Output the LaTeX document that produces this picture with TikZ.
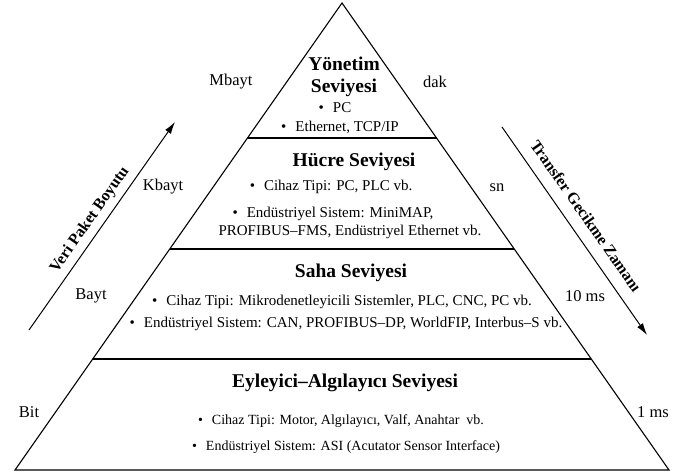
\documentclass[tikz,border=0pt]{standalone}
\usepackage{fontspec}
\setmainfont{Liberation Serif}
\usetikzlibrary{calc,arrows.meta}
\newcommand{\itm}{\textbullet\hspace{9pt}}
\begin{document}
\begin{tikzpicture}[x=1pt,y=-1pt,
  edge/.style={line width=1.1pt, line join=miter},
  divider/.style={line width=1.8pt},
  axis/.style={line width=1pt, -{Latex[length=12pt,width=7pt]}},
  title/.style={font=\fontsize{19.5}{22}\selectfont\bfseries, inner sep=0pt, align=center},
  body/.style={font=\fontsize{15}{17}\selectfont, inner sep=0pt},
  smallbody/.style={font=\fontsize{14}{16}\selectfont, inner sep=0pt},
  side/.style={font=\fontsize{16.5}{19}\selectfont, inner sep=0pt},
  axislabel/.style={font=\fontsize{16}{19}\selectfont\bfseries, inner sep=0pt}]
\useasboundingbox (0,0) rectangle (677,474);

% pyramid outline
\coordinate (apex) at (342,3);
\coordinate (bl) at (15,470);
\coordinate (br) at (669,470);
\draw[edge] (bl) -- (apex) -- (br) -- cycle;

% level dividers
\coordinate (l1) at ($(apex)!0.289!(bl)$);
\coordinate (r1) at ($(apex)!0.289!(br)$);
\coordinate (l2) at ($(apex)!0.527!(bl)$);
\coordinate (r2) at ($(apex)!0.527!(br)$);
\coordinate (l3) at ($(apex)!0.762!(bl)$);
\coordinate (r3) at ($(apex)!0.762!(br)$);
\draw[divider] (l1) -- (r1);
\draw[divider] (l2) -- (r2);
\draw[divider] (l3) -- (r3);

% management level
\node[title] (t1) at (344,77) {Yönetim\\Seviyesi};
\node[body] (t1a) at (335,108) {\itm PC};
\node[body] (t1b) at (340,127) {\itm Ethernet, TCP/IP};

% cell level
\node[title] (t2) at (354,162) {Hücre Seviyesi};
\node[body] (t2a) at (331,187) {\itm Cihaz Tipi: PC, PLC vb.};
\node[body] (t2b) at (333,214) {\itm Endüstriyel Sistem: MiniMAP,};
\node[body] (t2c) at (350,232) {PROFIBUS–FMS, Endüstriyel Ethernet vb.};

% field level
\node[title] (t3) at (351,273) {Saha Seviyesi};
\node[body] (t3a) at (342,302) {\itm Cihaz Tipi: Mikrodenetleyicili Sistemler, PLC, CNC, PC vb.};
\node[body] (t3b) at (346,324) {\itm Endüstriyel Sistem: CAN, PROFIBUS–DP, WorldFIP, Interbus–S vb.};

% actuator-sensor level
\node[title] (t4) at (345,383) {Eyleyici–Algılayıcı Seviyesi};
\node[smallbody] (t4a) at (341,421) {\itm Cihaz Tipi: Motor, Algılayıcı, Valf, Anahtar\ \ vb.};
\node[smallbody] (t4b) at (346,447) {\itm Endüstriyel Sistem: ASI (Acutator Sensor Interface)};

% packet size labels
\node[side] (mb) at (231,82) {Mbayt};
\node[side] (kb) at (163,187) {Kbayt};
\node[side] (by) at (91,296) {Bayt};
\node[side] (bi) at (29,412) {Bit};

% delay labels
\node[side] (dk) at (435,82) {dak};
\node[side] (sn) at (497,188) {sn};
\node[side] (ms10) at (585,296) {10 ms};
\node[side] (ms1) at (653,412) {1 ms};

% axes
\coordinate (ps0) at (29,330);
\coordinate (ps1) at (175,122);
\coordinate (td0) at (502,127);
\coordinate (td1) at (647,335);
\draw[axis] (ps0) -- (ps1);
\draw[axis] (td0) -- (td1);
\node[axislabel, rotate=55] (psl) at (90,220) {Veri Paket Boyutu};
\node[axislabel, rotate=-55] (tdl) at (586,216) {Transfer Gecikme Zamanı};
\end{tikzpicture}
\end{document}
